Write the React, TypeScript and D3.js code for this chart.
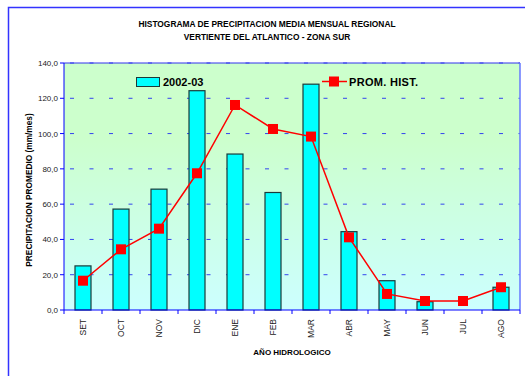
import React from "react";
import * as d3 from "d3";

const months = ["SET", "OCT", "NOV", "DIC", "ENE", "FEB", "MAR", "ABR", "MAY", "JUN", "JUL", "AGO"];
const series2002 = [25.0, 57.2, 68.5, 124.3, 88.4, 66.6, 128.0, 44.4, 16.6, 4.7, 0, 12.9];
const promHist = [16.6, 34.4, 46.1, 77.5, 116.2, 102.6, 98.3, 41.2, 9.1, 5.1, 5.1, 12.9];
const yTicks = [0, 20, 40, 60, 80, 100, 120, 140];

const W = 525, H = 376;
const plot = { left: 64, top: 63, right: 520, bottom: 310 };
const font = "Arial, 'Liberation Sans', sans-serif";

export default function App() {
  const x = d3.scaleBand<string>().domain(months).range([plot.left, plot.right]).paddingInner(0).paddingOuter(0);
  const y = d3.scaleLinear().domain([0, 140]).range([plot.bottom, plot.top]);
  const barW = 16;
  const cx = (m: string) => (x(m) as number) + x.bandwidth() / 2;
  const line = d3.line<number>().x((_, i) => cx(months[i])).y((d) => y(d));
  const fmt = (v: number) => v.toFixed(1).replace(".", ",");
  const boundaries = d3.range(months.length + 1).map((i) => plot.left + i * x.bandwidth());

  return (
    <svg width={W} height={H} style={{ position: "absolute", left: 0, top: 0 }} fontFamily={font}>
      <defs>
        <linearGradient id="bg" x1="0" y1="0" x2="0" y2="1">
          <stop offset="0" stopColor="#ccffcc" />
          <stop offset="0.3" stopColor="#ccffcc" />
          <stop offset="1" stopColor="#ccffff" />
        </linearGradient>
      </defs>
      <rect x={0} y={0} width={W} height={H} fill="#fff" />
      <rect x={8.5} y={7.5} width={530} height={380} fill="none" stroke="#3333ff" strokeWidth={1.5} />
      <text x={267} y={27} textAnchor="middle" fontSize={8.4} fontWeight="bold">HISTOGRAMA DE PRECIPITACION MEDIA MENSUAL REGIONAL</text>
      <text x={267} y={40} textAnchor="middle" fontSize={8.4} fontWeight="bold">VERTIENTE DEL ATLANTICO - ZONA SUR</text>

      <rect x={plot.left} y={plot.top} width={plot.right - plot.left} height={plot.bottom - plot.top} fill="url(#bg)" />
      {yTicks.slice(1).map((t) => (
        <line key={t} x1={plot.left} x2={plot.right} y1={y(t)} y2={y(t)} stroke="#3344ee" strokeWidth={1} strokeDasharray="4 15.5" strokeDashoffset={-6} />
      ))}
      <line x1={plot.left} x2={plot.right} y1={plot.top} y2={plot.top} stroke="#3333ee" strokeWidth={1} />
      <line x1={plot.right} x2={plot.right} y1={plot.top} y2={plot.bottom} stroke="#6677ff" strokeWidth={1.5} />

      {months.map((m, i) => (
        <rect key={m} x={cx(m) - barW / 2} y={y(series2002[i])} width={barW} height={plot.bottom - y(series2002[i])} fill="#00ffff" stroke="#1a3a3a" strokeWidth={1.2} />
      ))}

      <path d={line(promHist) || ""} fill="none" stroke="#ff0000" strokeWidth={1.5} />
      {promHist.map((v, i) => (
        <rect key={i} x={cx(months[i]) - 5} y={y(v) - 5} width={10} height={10} fill="#ff0000" />
      ))}

      <line x1={plot.left} x2={plot.left} y1={plot.top} y2={plot.bottom} stroke="#0000ff" strokeWidth={1} />
      <line x1={plot.left} x2={plot.right} y1={plot.bottom} y2={plot.bottom} stroke="#0000ff" strokeWidth={1} />
      {yTicks.map((t) => (
        <g key={t}>
          <line x1={plot.left - 4} x2={plot.left} y1={y(t)} y2={y(t)} stroke="#0000ff" />
          <text x={plot.left - 6} y={y(t) + 3} textAnchor="end" fontSize={8} fill="#222">{fmt(t)}</text>
        </g>
      ))}
      {boundaries.map((b, i) => (
        <line key={i} x1={b} x2={b} y1={plot.bottom} y2={plot.bottom + 4} stroke="#0000ff" />
      ))}
      {months.map((m) => (
        <text key={m} transform={`translate(${cx(m) + 3},${plot.bottom + 9}) rotate(-90)`} textAnchor="end" fontSize={8.5} fill="#222">{m}</text>
      ))}
      <text x={292} y={355} textAnchor="middle" fontSize={8} fontWeight="bold">AÑO HIDROLOGICO</text>
      <text transform={`translate(32,190) rotate(-90)`} textAnchor="middle" fontSize={8.3} fontWeight="bold">PRECIPITACION PROMEDIO (mm/mes)</text>

      <rect x={136.5} y={77.5} width={23} height={9} fill="#00ffff" stroke="#1a3a3a" strokeWidth={1} />
      <text x={163} y={86} fontSize={11} fontWeight="bold">2002-03</text>
      <line x1={322} x2={347} y1={81.5} y2={81.5} stroke="#ff0000" strokeWidth={1.5} />
      <rect x={329} y={76.5} width={10} height={10} fill="#ff0000" />
      <text x={349} y={86} fontSize={11} fontWeight="bold" letterSpacing={0.3}>PROM. HIST.</text>
    </svg>
  );
}
